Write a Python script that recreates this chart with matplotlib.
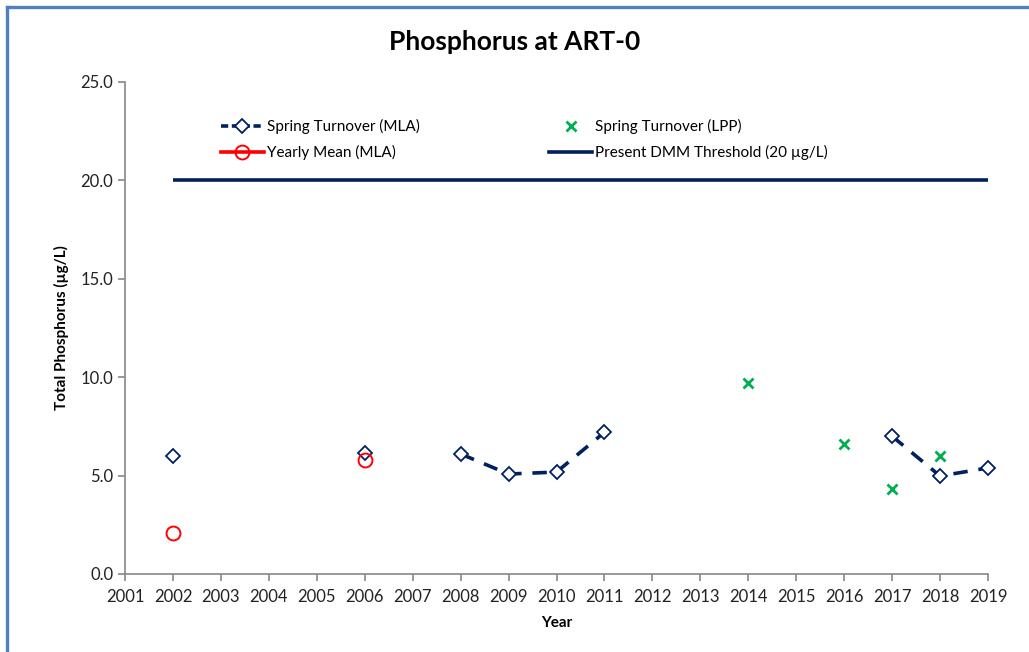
import numpy as np
import matplotlib
matplotlib.use("Agg")
import matplotlib.pyplot as plt
from matplotlib.lines import Line2D

plt.rcParams["font.family"] = ["Lato", "DejaVu Sans"]

years = np.arange(2002, 2020)
spring_mla = [6.0, np.nan, np.nan, np.nan, 6.15, np.nan, 6.1, 5.08, 5.18, 7.2,
              np.nan, np.nan, np.nan, np.nan, np.nan, 7.0, 4.98, 5.39]
mean_years = [2002, 2006]
mean_mla = [2.08, 5.8]
lpp_years = [2014, 2016, 2017, 2018]
lpp_values = [9.7, 6.6, 4.3, 6.0]
threshold_years = [2002, 2019]
threshold = [20, 20]

navy = "#002060"
fig = plt.figure(figsize=(10.29, 6.52), dpi=100)
ax = fig.add_axes([125 / 1029, 1 - 574 / 652, 863 / 1029, 492 / 652])

ax.plot(threshold_years, threshold, color=navy, lw=2.6, solid_capstyle="butt")
ax.plot(years, spring_mla, color=navy, lw=2.6, ls=(0, (4, 3)), marker="D",
        markersize=7, markerfacecolor="white", markeredgecolor=navy, markeredgewidth=1.3,
        clip_on=False)
ax.plot(mean_years, mean_mla, ls="none", marker="o", markersize=10,
        markerfacecolor="none", markeredgecolor="#FF0000", markeredgewidth=1.4)
ax.plot(lpp_years, lpp_values, ls="none", marker="x", markersize=7,
        color="#00B050", markeredgewidth=2)

ax.set_xlim(2001, 2019)
ax.set_ylim(0, 25)
ax.set_xticks(np.arange(2001, 2020))
ax.set_yticks(np.arange(0, 26, 5))
ax.set_yticklabels([f"{v:.1f}" for v in np.arange(0, 26, 5)])
for side in ["top", "right"]:
    ax.spines[side].set_visible(False)
for side in ["left", "bottom"]:
    ax.spines[side].set_color("#888888")
    ax.spines[side].set_linewidth(1.2)
ax.tick_params(axis="both", colors="#888888", labelcolor="#222222", labelsize=12,
               length=5, width=1.2, direction="out")
ax.tick_params(axis="x", pad=6)
ax.set_xlabel("Year", fontsize=11, fontweight="bold", labelpad=8)
ax.set_ylabel("Total Phosphorus (µg/L)", fontsize=11, fontweight="bold", labelpad=8)

fig.text(0.5, 0.935, "Phosphorus at ART-0", ha="center", va="center",
         fontsize=19, fontweight="bold")

handles = [
    Line2D([], [], color=navy, lw=2.6, ls=(0, (2, 1)), marker="D", markersize=7,
           markerfacecolor="white", markeredgecolor=navy, markeredgewidth=1.3),
    Line2D([], [], color="#FF0000", lw=2.6, marker="o", markersize=10,
           markerfacecolor="none", markeredgecolor="#FF0000", markeredgewidth=1.4),
    Line2D([], [], ls="none", marker="x", markersize=7, color="#00B050", markeredgewidth=2),
    Line2D([], [], color=navy, lw=2.6),
]
labels = ["Spring Turnover (MLA)", "Yearly Mean (MLA)",
          "Spring Turnover (LPP)", "Present DMM Threshold (20 µg/L)"]
ax.legend(handles, labels, ncol=2, frameon=False, fontsize=11,
          loc="upper left", bbox_to_anchor=(0.095, 0.953),
          handlelength=2.8, handletextpad=0.2, columnspacing=8.5, labelspacing=0.75)

border = "#4F81BD"
fig.add_artist(Line2D([7 / 1029, 7 / 1029], [0, 1 - 6.5 / 652], color=border, lw=2.4,
                      transform=fig.transFigure))
fig.add_artist(Line2D([7 / 1029, 1], [1 - 6.5 / 652, 1 - 6.5 / 652], color=border, lw=2.4,
                      transform=fig.transFigure, solid_capstyle="projecting"))

fig.savefig("out.png", dpi=100)
